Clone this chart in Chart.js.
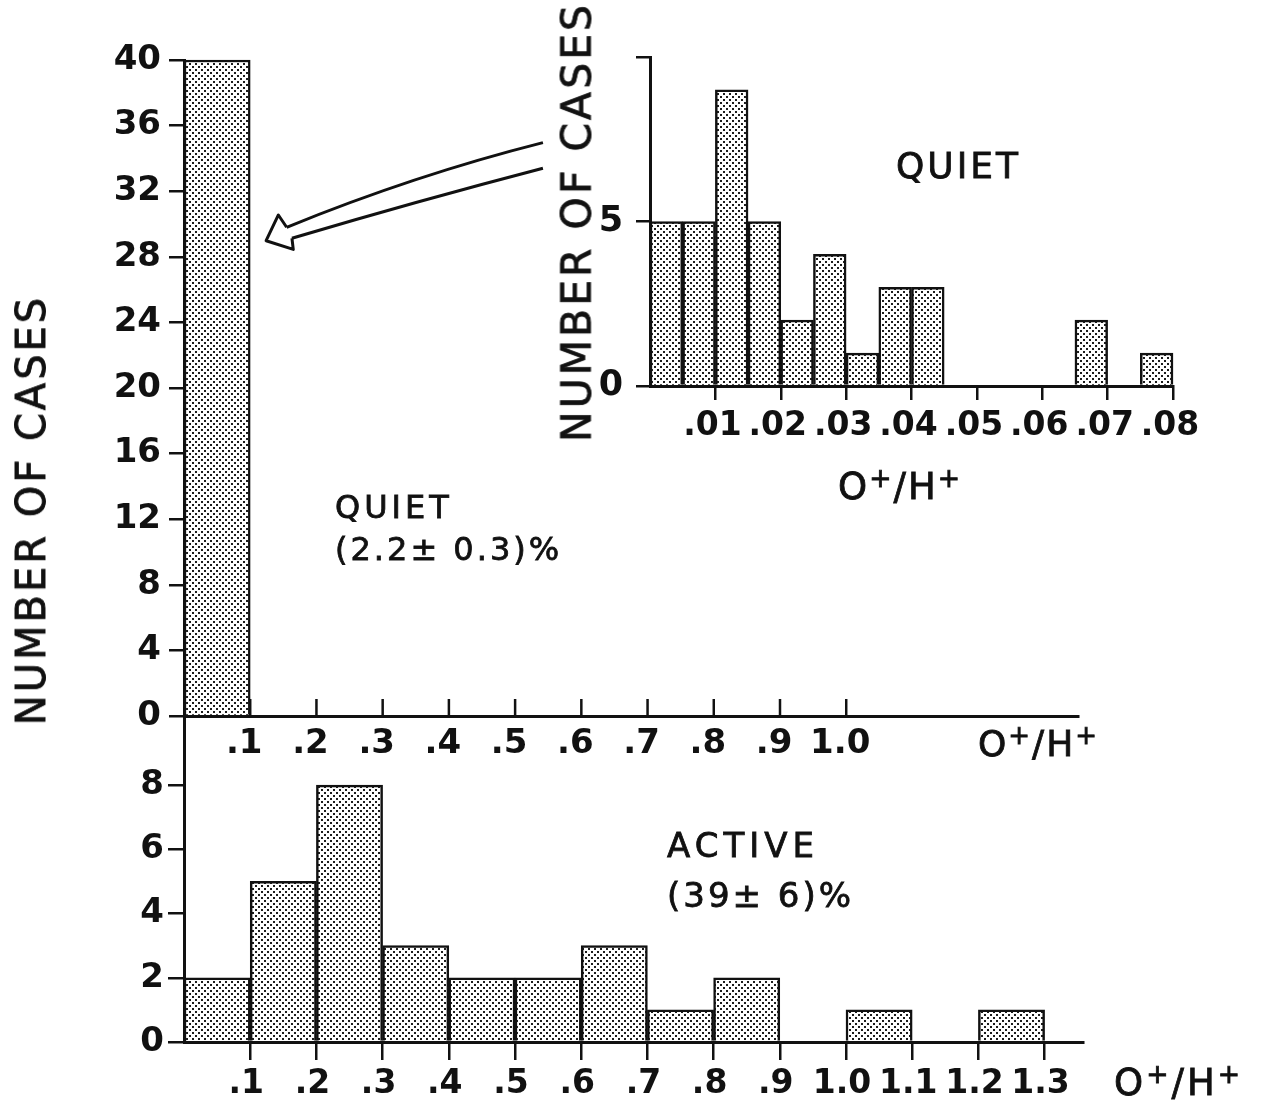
<!DOCTYPE html>
<html>
<head>
<meta charset="utf-8">
<title>O+/H+ ratio, quiet and active</title>
<script src="https://cdn.jsdelivr.net/npm/chart.js@4.4.1/dist/chart.umd.min.js"></script>
<style>
    body { margin: 0; background: #fff; }
    #page { position: relative; width: 1265px; height: 1103px; overflow: hidden; background: #fff; }
    #page canvas { position: absolute; left: 0; top: 0; }
    .lbl { position: absolute; font-family: "DejaVu Sans", sans-serif; line-height: 1; white-space: nowrap; color: #111; -webkit-text-stroke: 0.8px #111; }
    .rot { transform: translate(-50%, -50%) rotate(-90deg); }
    .lbl sup { font-size: 0.72em; vertical-align: 0.45em; line-height: 0; }
</style>
</head>
<body>
<div id="page">
    <canvas id="mainChart" width="1265" height="1103"></canvas>
    <canvas id="activeChart" width="1265" height="1103"></canvas>
    <canvas id="insetChart" width="1265" height="1103"></canvas>

    <div class="lbl rot" style="left:31px; top:510px; font-size:40px; letter-spacing:3px;">NUMBER OF CASES</div>
    <div class="lbl rot" style="left:577px; top:222px; font-size:41px; letter-spacing:3px;">NUMBER OF CASES</div>

    <div class="lbl" style="left:335px; top:491px; font-size:32px; letter-spacing:4px;">QUIET</div>
    <div class="lbl" style="left:335px; top:533px; font-size:32px; letter-spacing:3px;">(2.2± 0.3)%</div>
    <div class="lbl" style="left:896px; top:148px; font-size:36px; letter-spacing:3px;">QUIET</div>
    <div class="lbl" style="left:667px; top:828px; font-size:34px; letter-spacing:5px;">ACTIVE</div>
    <div class="lbl" style="left:667px; top:878px; font-size:34px; letter-spacing:3px;">(39± 6)%</div>

    <div class="lbl" style="left:978px; top:726px; font-size:36px; letter-spacing:2px;">O<sup>+</sup>/H<sup>+</sup></div>
    <div class="lbl" style="left:838px; top:468px; font-size:37px; letter-spacing:2px;">O<sup>+</sup>/H<sup>+</sup></div>
    <div class="lbl" style="left:1114px; top:1064px; font-size:37px; letter-spacing:3px;">O<sup>+</sup>/H<sup>+</sup></div>
</div>

<script>
const ink = "#111111";

// big panels: O+/H+ in bins of 0.1
const wideBinStart = [0, 0.1, 0.2, 0.3, 0.4, 0.5, 0.6, 0.7, 0.8, 0.9, 1.0, 1.1, 1.2];
const wideBinWidth = 0.1;
const quietWideCounts = [40, 0, 0, 0, 0, 0, 0, 0, 0, 0, 0, 0, 0];
const activeCounts = [2, 5, 8, 3, 2, 2, 3, 1, 2, 0, 1, 0, 1];

// inset: quiet cases in bins of 0.005
const fineBinStart = [0, 0.005, 0.01, 0.015, 0.02, 0.025, 0.03, 0.035, 0.04, 0.045, 0.05, 0.055, 0.06, 0.065, 0.07, 0.075];
const fineBinWidth = 0.005;
const quietFineCounts = [5, 5, 9, 5, 2, 4, 1, 3, 3, 0, 0, 0, 0, 2, 0, 1];

// ticks
const mainYTicks = [0, 4, 8, 12, 16, 20, 24, 28, 32, 36, 40];
const mainXTicks = [0.1, 0.2, 0.3, 0.4, 0.5, 0.6, 0.7, 0.8, 0.9, 1.0];
const mainXLabels = [".1", ".2", ".3", ".4", ".5", ".6", ".7", ".8", ".9", "1.0"];
const activeYTicks = [0, 2, 4, 6, 8];
const activeXTicks = [0.1, 0.2, 0.3, 0.4, 0.5, 0.6, 0.7, 0.8, 0.9, 1.0, 1.1, 1.2, 1.3];
const activeXLabels = [".1", ".2", ".3", ".4", ".5", ".6", ".7", ".8", ".9", "1.0", "1.1", "1.2", "1.3"];
const insetYTicks = [0, 5, 10];
const insetYLabels = ["0", "5", ""];
const insetXTicks = [0.01, 0.02, 0.03, 0.04, 0.05, 0.06, 0.07, 0.08];
const insetXLabels = [".01", ".02", ".03", ".04", ".05", ".06", ".07", ".08"];

// arrow from the inset to the tall bar, in the main panel's data units
const arrowUpper = [[0.542, 34.96], [0.349, 32.99], [0.155, 29.80]];
const arrowLower = [[0.542, 33.40], [0.352, 31.40], [0.163, 29.13]];
const arrowHead = [[0.155, 29.80], [0.1425, 30.55], [0.124, 28.98], [0.165, 28.45], [0.163, 29.13]];

function dotPattern() {
    const tile = document.createElement("canvas");
    tile.width = 6;
    tile.height = 6;
    const g = tile.getContext("2d");
    g.fillStyle = "#ffffff";
    g.fillRect(0, 0, 6, 6);
    g.fillStyle = "#1c1c1c";
    g.fillRect(0, 0, 2, 2);
    g.fillRect(3, 3, 2, 2);
    return g.createPattern(tile, "repeat");
}

const dots = dotPattern();

// tick marks pointing up into the plot (main panel x axis)
const innerTicks = {
    id: "innerTicks",
    afterDraw(chart) {
        const { ctx, chartArea } = chart;
        const x = chart.scales.x;
        ctx.save();
        ctx.strokeStyle = ink;
        ctx.lineWidth = 2.5;
        x.ticks.forEach((t) => {
            const px = x.getPixelForValue(t.value);
            ctx.beginPath();
            ctx.moveTo(px, chartArea.bottom);
            ctx.lineTo(px, chartArea.bottom - 17);
            ctx.stroke();
        });
        ctx.restore();
    },
};

const arrow = {
    id: "arrow",
    afterDraw(chart) {
        const { ctx } = chart;
        const { x, y } = chart.scales;
        const px = (p) => [x.getPixelForValue(p[0]), y.getPixelForValue(p[1])];
        ctx.save();
        ctx.strokeStyle = ink;
        ctx.lineWidth = 3;
        ctx.lineJoin = "round";
        [arrowUpper, arrowLower].forEach((line) => {
            const [a, c, b] = line.map(px);
            ctx.beginPath();
            ctx.moveTo(a[0], a[1]);
            ctx.quadraticCurveTo(c[0], c[1], b[0], b[1]);
            ctx.stroke();
        });
        ctx.beginPath();
        arrowHead.map(px).forEach((p, i) => (i ? ctx.lineTo(p[0], p[1]) : ctx.moveTo(p[0], p[1])));
        ctx.stroke();
        ctx.restore();
    },
};

function histogram(canvasId, o) {
    const font = (size) => ({ family: "DejaVu Sans", size, weight: "bold" });
    return new Chart(document.getElementById(canvasId), {
        type: "bar",
        data: {
            datasets: [{
                data: o.starts.map((s, i) => ({ x: s + o.binWidth / 2, y: o.counts[i] })),
                backgroundColor: dots,
                borderColor: ink,
                borderWidth: 2.5,
                borderSkipped: "start",
                barPercentage: 1,
                categoryPercentage: 1,
                clip: false,
            }],
        },
        options: {
            responsive: false,
            animation: false,
            events: [],
            layout: { padding: o.padding },
            plugins: { legend: { display: false }, tooltip: { enabled: false } },
            scales: {
                x: {
                    type: "linear",
                    min: 0,
                    max: o.xMax,
                    offset: false,
                    grid: { offset: false, drawOnChartArea: false, drawTicks: o.xTickLength > 0, tickLength: o.xTickLength, color: ink, lineWidth: 2.5 },
                    border: { display: true, color: ink, width: 3 },
                    ticks: {
                        autoSkip: false,
                        maxRotation: 0,
                        padding: o.xPad,
                        labelOffset: o.xLabelOffset,
                        color: ink,
                        font: font(o.xFont),
                        callback: (v, i) => o.xLabels[i],
                    },
                    afterBuildTicks: (s) => { s.ticks = o.xTicks.map((v) => ({ value: v })); },
                    afterFit: (s) => { s.height = o.xHeight; },
                },
                y: {
                    min: 0,
                    max: o.yMax,
                    grid: { drawOnChartArea: false, tickLength: o.yTickLength, color: ink, lineWidth: 2.5 },
                    border: { display: true, color: ink, width: 3 },
                    ticks: {
                        padding: o.yPad,
                        color: ink,
                        font: font(o.yFont),
                        callback: (v, i) => o.yLabels[i],
                    },
                    afterBuildTicks: (s) => { s.ticks = o.yTicks.map((v) => ({ value: v })); },
                    afterFit: (s) => { s.width = 100; },
                },
            },
        },
        plugins: o.plugins || [],
    });
}

// main quiet panel: plot area 184..1078 x 60..716
histogram("mainChart", {
    starts: wideBinStart, binWidth: wideBinWidth, counts: quietWideCounts,
    padding: { left: 84, right: 187, top: 60, bottom: 337 },
    xMax: 1.35, xTicks: mainXTicks, xLabels: mainXLabels,
    xTickLength: 0, xPad: 8, xLabelOffset: -6, xFont: 34, xHeight: 50,
    yMax: 40, yTicks: mainYTicks, yLabels: mainYTicks.map(String),
    yTickLength: 15, yPad: 8, yFont: 34,
    plugins: [innerTicks, arrow],
});

// active panel: axis continues up to the quiet baseline
histogram("activeChart", {
    starts: wideBinStart, binWidth: wideBinWidth, counts: activeCounts,
    padding: { left: 84, right: 182, top: 716, bottom: 0 },
    xMax: 1.358, xTicks: activeXTicks, xLabels: activeXLabels,
    xTickLength: 18, xPad: 5, xLabelOffset: -4, xFont: 33, xHeight: 61,
    yMax: 10.15, yTicks: activeYTicks, yLabels: activeYTicks.map(String),
    yTickLength: 16, yPad: 4, yFont: 34,
});

// inset quiet panel: plot area 650..1173 x 57..386
histogram("insetChart", {
    starts: fineBinStart, binWidth: fineBinWidth, counts: quietFineCounts,
    padding: { left: 550, right: 92, top: 57, bottom: 647 },
    xMax: 0.08, xTicks: insetXTicks, xLabels: insetXLabels,
    xTickLength: 14, xPad: 7, xLabelOffset: -3, xFont: 33, xHeight: 70,
    yMax: 10, yTicks: insetYTicks, yLabels: insetYLabels,
    yTickLength: 14, yPad: 13, yFont: 35,
});
</script>
</body>
</html>
